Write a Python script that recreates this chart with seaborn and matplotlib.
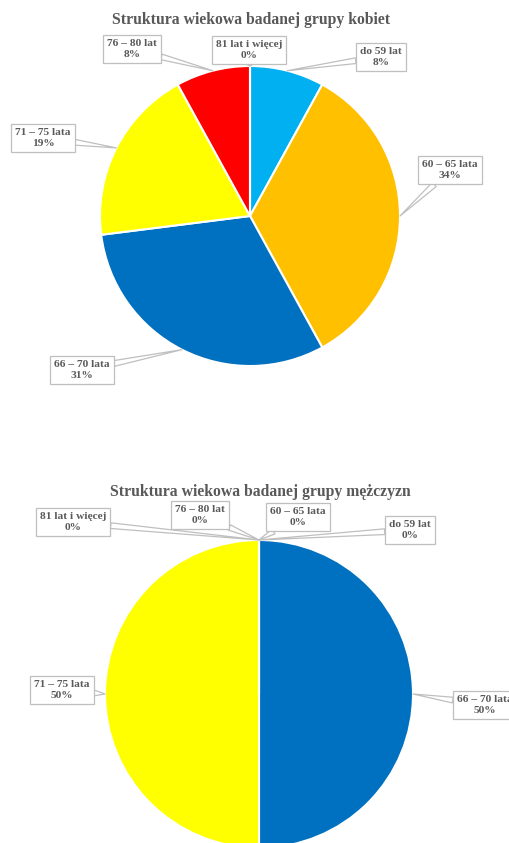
import numpy as np
import matplotlib
matplotlib.use("Agg")
import matplotlib.pyplot as plt
import seaborn as sns

# Age groups and shares (%) for both groups
categories = ["do 59 lat", "60 – 65 lata", "66 – 70 lata", "71 – 75 lata", "76 – 80 lat", "81 lat i więcej"]
women_pct = [8, 34, 31, 19, 8, 0]
men_pct = [0, 0, 50, 50, 0, 0]
slice_colors = ["#00B0F0", "#FFC000", "#0070C0", "#FFFF00", "#FF0000", "#70AD47"]
women_title = "Struktura wiekowa badanej grupy kobiet"
men_title = "Struktura wiekowa badanej grupy mężczyzn"

sns.set_theme(style="white")
plt.rcParams["font.family"] = ["Liberation Serif", "DejaVu Serif"]

W, H = 509, 843
fig = plt.figure(figsize=(W / 100, H / 100), dpi=100)
fig.patch.set_facecolor("white")
TXT = "#595959"
EDGE = "#BFBFBF"


def fpos(x, y):
    """Pixel position (origin top-left) to figure fraction."""
    return x / W, 1 - y / H


def draw_pie(cx, cy, r, values, title, title_xy, label_xy):
    ax = fig.add_axes([(cx - r) / W, 1 - (cy + r) / H, 2 * r / W, 2 * r / H])
    ax.pie(values, colors=slice_colors, startangle=90, counterclock=False,
           radius=1, wedgeprops=dict(edgecolor="white", linewidth=1.5))
    ax.set_xlim(-1, 1)
    ax.set_ylim(-1, 1)
    ax.set_axis_off()
    fig.text(*fpos(*title_xy), title, ha="center", va="center",
             fontsize=11.3, fontweight="bold", color=TXT)
    total = float(sum(values))
    cum = 0.0
    for cat, v, (tx, ty) in zip(categories, values, label_xy):
        mid = (cum + v / 2) / total
        cum += v
        theta = np.pi / 2 - 2 * np.pi * mid
        pt = (np.cos(theta), np.sin(theta))
        ax.annotate(f"{cat}\n{v:.0f}%", xy=pt, xycoords="data",
                    xytext=fpos(tx, ty), textcoords="figure fraction",
                    ha="center", va="center", fontsize=8.2, fontweight="bold",
                    color=TXT, linespacing=1.3, annotation_clip=False,
                    bbox=dict(boxstyle="square,pad=0.35", fc="white", ec=EDGE, lw=0.9),
                    arrowprops=dict(arrowstyle="wedge,tail_width=0.5,shrink_factor=0.5",
                                    fc="white", ec=EDGE, lw=0.9,
                                    shrinkA=0, shrinkB=0))
    return ax


draw_pie(250, 216, 150, women_pct, women_title, (251, 20),
         [(381, 57), (450, 170), (82, 370), (43, 138), (132, 49), (249, 50)])

draw_pie(259, 694, 154, men_pct, men_title, (260, 492),
         [(410, 530), (298, 517), (485, 705), (62, 690), (200, 515), (73, 522)])

fig.savefig("out.png", dpi=100, facecolor="white")
